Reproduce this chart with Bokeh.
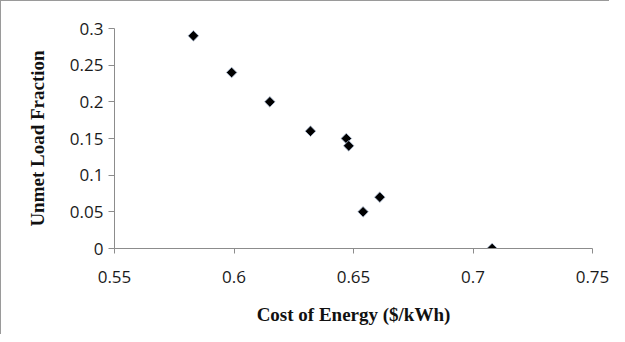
import math
from bokeh.plotting import figure
from bokeh.models import Range1d, FixedTicker
from bokeh.embed import file_html
from bokeh.resources import INLINE

cost = [0.583, 0.599, 0.615, 0.632, 0.647, 0.648, 0.654, 0.661, 0.708]
unmet = [0.29, 0.24, 0.20, 0.16, 0.15, 0.14, 0.05, 0.07, 0.0]
x_ticks = [0.55, 0.6, 0.65, 0.7, 0.75]
y_ticks = [0, 0.05, 0.1, 0.15, 0.2, 0.25, 0.3]

p = figure(width=609, height=334, output_backend="svg", toolbar_location=None,
           x_range=Range1d(0.55, 0.75), y_range=Range1d(0, 0.3),
           min_border_left=113, min_border_right=18, min_border_top=27, min_border_bottom=87)
p.outline_line_color = None
p.grid.visible = False
p.stylesheets = [":host { border-top: 1px solid #9a9a9a; border-left: 1px solid #9a9a9a; }"]

p.scatter(cost, unmet, marker="square", angle=math.pi / 4, size=7.5, fill_color="black",
          line_color="#b5c4dc", line_width=0.8)

for ax in (p.xaxis[0], p.yaxis[0]):
    ax.axis_line_color = "#8c8c8c"
    ax.major_tick_line_color = "#8c8c8c"
    ax.minor_tick_line_color = None
    ax.major_tick_in = 0
    ax.major_label_text_font = "Open Sans"
    ax.major_label_text_font_size = "17px"
    ax.major_label_text_color = "#1a1a1a"
    ax.axis_label_text_font = "Liberation Serif"
    ax.axis_label_text_font_style = "bold"
    ax.axis_label_text_color = "#111111"

p.xaxis.axis_label_text_font_size = "19px"
p.yaxis.axis_label_text_font_size = "19px"
p.xaxis.ticker = FixedTicker(ticks=x_ticks)
p.yaxis.ticker = FixedTicker(ticks=y_ticks)
p.xaxis.major_label_overrides = {0.55: "0.55", 0.6: "0.6", 0.65: "0.65", 0.7: "0.7", 0.75: "0.75"}
p.yaxis.major_label_overrides = {0: "0", 0.05: "0.05", 0.1: "0.1", 0.15: "0.15", 0.2: "0.2", 0.25: "0.25", 0.3: "0.3"}
p.xaxis.major_tick_out = 5
p.yaxis.major_tick_out = 6
p.xaxis.major_label_standoff = 17
p.yaxis.major_label_standoff = 5
p.xaxis.axis_label = "Cost of Energy ($/kWh)"
p.yaxis.axis_label = "Unmet Load Fraction"
p.xaxis.axis_label_standoff = 18
p.yaxis.axis_label_standoff = 19

open("out.html", "w").write(file_html(p, INLINE))
